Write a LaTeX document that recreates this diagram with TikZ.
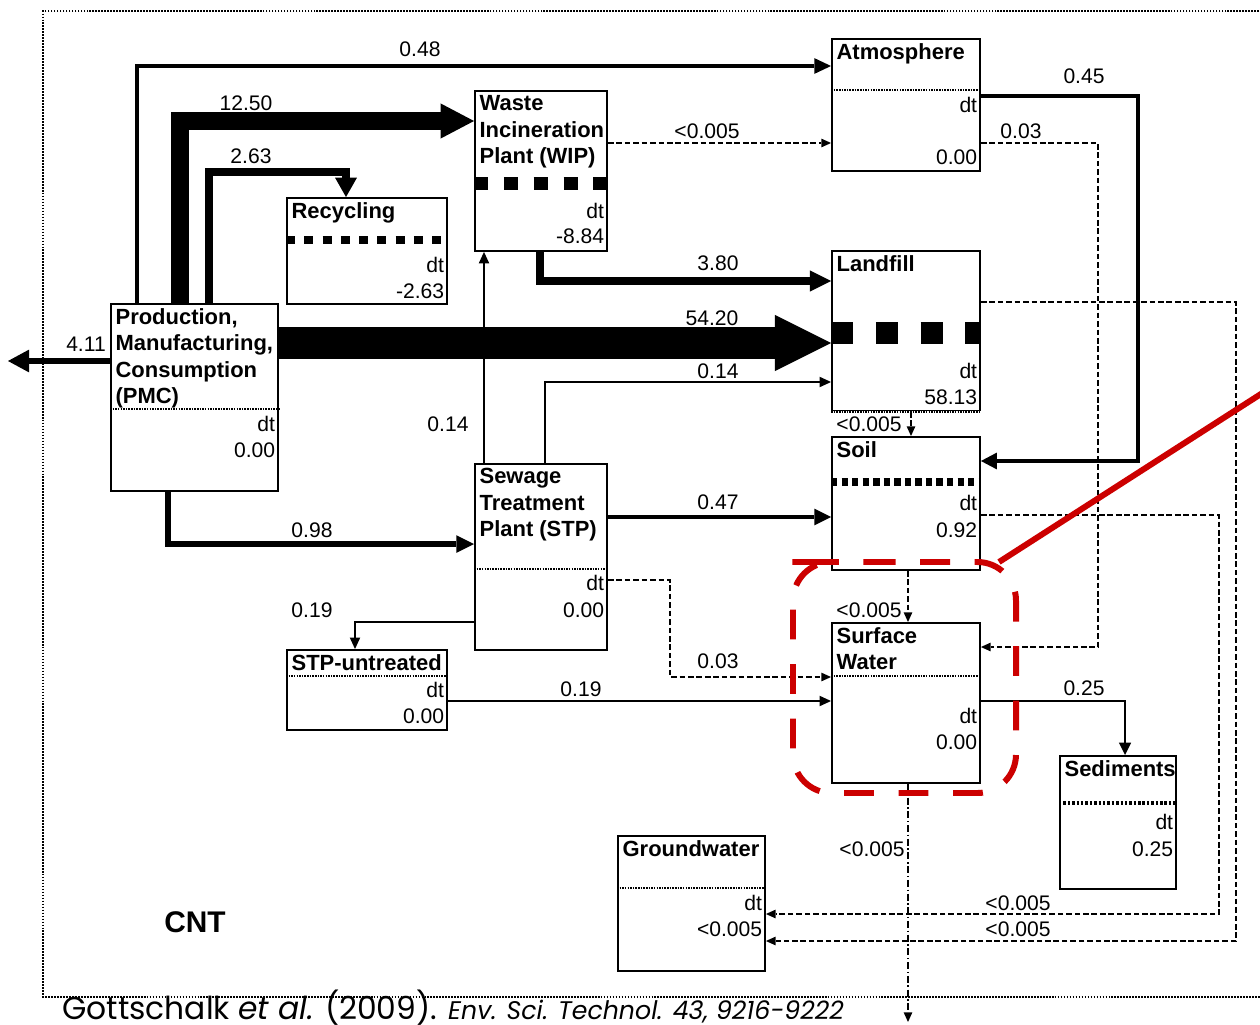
\documentclass[tikz,border=0pt]{standalone}
\usepackage{graphicx}
\usepackage{fontspec}
\setmainfont{Liberation Sans}
\newfontfamily\citefont{Poppins}
\usetikzlibrary{arrows.meta}
\definecolor{annored}{RGB}{204,0,0}

\tikzset{
  box/.style={draw, line width=1.1pt, anchor=north west, inner sep=0pt},
  size/.style 2 args={minimum width=#1*0.02cm, minimum height=#2*0.02cm},
  title/.style={anchor=north west, align=left, inner sep=3pt, font=\fontsize{12.5}{15}\selectfont\bfseries},
  val/.style={anchor=east, inner sep=2pt, font=\fontsize{12}{14}\selectfont},
  lbl/.style={inner sep=1pt, font=\fontsize{12}{14}\selectfont},
  tip/.style 2 args={-{Triangle[length=#1, width=#2, line width=0pt]}},
  thinflow/.style={line width=1.1pt, tip={6.5pt}{6pt}},
  dashflow/.style={line width=0.6pt, dash pattern=on 3.2pt off 1.6pt, tip={5.5pt}{5pt}},
  dotflow/.style={line width=0.6pt, dash pattern=on 4pt off 1.5pt on 0.8pt off 1.5pt, tip={5.5pt}{5pt}},
  thindiv/.style={line width=0.8pt, dash pattern=on 0.9pt off 0.6pt},
  frame/.style={line width=0.9pt, dash pattern=on 1pt off 0.7pt},
  reddash/.style={annored, line width=3.4pt, dash pattern=on 17pt off 14pt, rounded corners=22pt}
}

\begin{document}
\begin{tikzpicture}[x=0.02cm, y=-0.02cm]
\useasboundingbox (0,0) rectangle (1260,1024);
\fill[white] (0,0) rectangle (1260,1024);
\clip (0,0) rectangle (1260,1024);

% outer frame
\draw[frame] (1280,11) -| (43,997) -- (1280,997);

% Production, Manufacturing, Consumption
\node[box, size={167}{187}] (pmc) at (110,303) {};
\node[title] (pmct) at (pmc.north west) {Production,\\Manufacturing,\\Consumption\\(PMC)};
\draw[thindiv] (pmc.west |- 0,409) -- (pmc.east |- 0,409);
\node[val] (pmcdt) at (pmc.east |- 0,424) {dt};
\node[val] (pmcv) at (pmc.east |- 0,450) {0.00};

% Recycling
\node[box, size={160}{106}] (rec) at (286,197) {};
\node[title] (rect) at (rec.north west) {Recycling};
\draw[line width=4.5pt, dash pattern=on 5.1pt off 5.3pt] (rec.west |- 0,240) -- (rec.east |- 0,240);
\node[val] (recdt) at (rec.east |- 0,265) {dt};
\node[val] (recv) at (rec.east |- 0,291) {-2.63};

% Waste Incineration Plant
\node[box, size={132}{160}] (wip) at (474,90) {};
\node[title] (wipt) at (wip.north west) {Waste\\Incineration\\Plant (WIP)};
\draw[line width=7.4pt, dash pattern=on 8pt off 9pt] (wip.west |- 0,183) -- (wip.east |- 0,183);
\node[val] (wipdt) at (wip.east |- 0,211) {dt};
\node[val] (wipv) at (wip.east |- 0,236) {-8.84};

% Atmosphere
\node[box, size={148}{132}] (atm) at (831,38) {};
\node[title] (atmt) at (atm.north west) {Atmosphere};
\draw[thindiv] (atm.west |- 0,90) -- (atm.east |- 0,90);
\node[val] (atmdt) at (atm.east |- 0,105) {dt};
\node[val] (atmv) at (atm.east |- 0,157) {0.00};

% Landfill
\node[box, size={148}{160}] (lf) at (831,250) {};
\node[title] (lft) at (lf.north west) {Landfill};
\draw[line width=13pt, dash pattern=on 12.5pt off 13pt] (lf.west |- 0,333) -- (lf.east |- 0,333);
\draw[white, line width=1.3pt] (lf.south west) -- (lf.south east);
\draw[thindiv] (lf.south west) -- (lf.south east);
\node[val] (lfdt) at (lf.east |- 0,371) {dt};
\node[val] (lfv) at (lf.east |- 0,397) {58.13};

% Soil
\node[box, size={148}{133}] (soil) at (831,436) {};
\node[title] (soilt) at (soil.north west) {Soil};
\draw[line width=4pt, dash pattern=on 3.6pt off 2.4pt] (soil.west |- 0,482) -- (soil.east |- 0,482);
\node[val] (soildt) at (soil.east |- 0,503) {dt};
\node[val] (soilv) at (soil.east |- 0,530) {0.92};

% Surface Water
\node[box, size={148}{160}] (sw) at (831,622) {};
\node[title] (swt) at (sw.north west) {Surface\\Water};
\draw[thindiv] (sw.west |- 0,676) -- (sw.east |- 0,676);
\node[val] (swdt) at (sw.east |- 0,716) {dt};
\node[val] (swv) at (sw.east |- 0,742) {0.00};

% Sewage Treatment Plant
\node[box, size={132}{186}] (stp) at (474,463) {};
\node[title] (stpt) at (stp.north west) {Sewage\\Treatment\\Plant (STP)};
\draw[thindiv] (stp.west |- 0,569) -- (stp.east |- 0,569);
\node[val] (stpdt) at (stp.east |- 0,583) {dt};
\node[val] (stpv) at (stp.east |- 0,610) {0.00};

% STP-untreated
\node[box, size={160}{80}] (untr) at (286,649) {};
\node[title] (untrt) at (untr.north west) {STP-untreated};
\draw[thindiv] (untr.west |- 0,676) -- (untr.east |- 0,676);
\node[val] (untrdt) at (untr.east |- 0,690) {dt};
\node[val] (untrv) at (untr.east |- 0,716) {0.00};

% Sediments
\node[box, size={116}{133}] (sed) at (1059,755) {};
\node[title] (sedt) at (sed.north west) {Sediments};
\draw[line width=2.5pt, dash pattern=on 1.4pt off 1.1pt] (sed.west |- 0,803) -- (sed.east |- 0,803);
\node[val] (seddt) at (sed.east |- 0,822) {dt};
\node[val] (sedv) at (sed.east |- 0,849) {0.25};

% Groundwater
\node[box, size={147}{135}] (gw) at (617,835) {};
\node[title] (gwt) at (gw.north west) {Groundwater};
\draw[thindiv] (gw.west |- 0,888) -- (gw.east |- 0,888);
\node[val] (gwdt) at (gw.east |- 0,903) {dt};
\node[val] (gwv) at (gw.east |- 0,929) {<0.005};

% flows from PMC
\draw[line width=2.8pt, tip={9.5pt}{9pt}] (pmc.north -| 137,0) |- (atm.west |- 0,66);
\draw[line width=10pt, tip={19pt}{20pt}] (pmc.north -| 180,0) |- (wip.west |- 0,121);
\draw[line width=4pt, tip={11pt}{12.5pt}] (pmc.north -| 209,0) |- (346,172) -- (rec.north -| 346,0);
\coordinate (exit) at (8,361);
\draw[line width=3.4pt, tip={12pt}{13pt}] (pmc.west |- 0,361) -- (exit);
\draw[line width=3.4pt, tip={10pt}{10pt}] (pmc.south -| 168,0) |- (stp.west |- 0,544);

% flows from STP
\draw[thinflow] (stp.north -| 484,0) -- (wip.south -| 484,0);
\draw[thinflow] (stp.north -| 545,0) |- (lf.west |- 0,382);
\draw[line width=2.3pt, tip={9.5pt}{9.5pt}] (stp.east |- 0,517) -- (soil.west |- 0,517);
\draw[thinflow] (stp.west |- 0,622) -| (untr.north -| 355,0);
\draw[dashflow] (stp.east |- 0,580) -| (670,677) -- (sw.west |- 0,677);
\draw[thinflow] (untr.east |- 0,701) -- (sw.west |- 0,701);

\draw[line width=18pt, tip={32pt}{32pt}] (pmc.east |- 0,343) -- (lf.west |- 0,343);

% flows from WIP
\draw[dashflow] (wip.east |- 0,143) -- (atm.west |- 0,143);
\draw[line width=4pt, tip={12pt}{12pt}] (wip.south -| 540,0) |- (lf.west |- 0,281);

% flows from Atmosphere
\draw[line width=2.8pt, tip={9pt}{9.5pt}] (atm.east |- 0,96) -| (1138,461) -- (soil.east |- 0,461);
\draw[dashflow] (atm.east |- 0,143) -| (1098,647) -- (sw.east |- 0,647);

% flows from Landfill
\draw[dashflow] (lf.south -| 911,0) -- (soil.north -| 911,0);
\draw[dashflow] (lf.east |- 0,302) -| (1236,941) -- (gw.east |- 0,941);

% flows from Soil
\draw[dashflow] (soil.south -| 908,0) -- (sw.north -| 908,0);
\draw[dashflow] (soil.east |- 0,515) -| (1219,914) -- (gw.east |- 0,914);

% flows from Surface Water
\draw[line width=1.6pt, tip={7pt}{7pt}] (sw.east |- 0,701) -| (sed.north -| 1125,0);
\coordinate (sink) at (908,1022);
\draw[dotflow] (sw.south -| 908,0) -- (sink);

% flow labels
\node[lbl] (l1) at (420,49) {0.48};
\node[lbl] (l2) at (246,103) {12.50};
\node[lbl] (l3) at (251,156) {2.63};
\node[lbl] (l4) at (86,344) {4.11};
\node[lbl] (l5) at (712,318) {54.20};
\node[lbl] (l6) at (718,371) {0.14};
\node[lbl] (l7) at (448,424) {0.14};
\node[lbl] (l8) at (312,530) {0.98};
\node[lbl] (l9) at (718,502) {0.47};
\node[lbl] (l10) at (312,610) {0.19};
\node[lbl] (l11) at (718,661) {0.03};
\node[lbl] (l12) at (581,689) {0.19};
\node[lbl] (l13) at (707,131) {<0.005};
\node[lbl] (l14) at (718,263) {3.80};
\node[lbl] (l15) at (1084,76) {0.45};
\node[lbl] (l16) at (1021,131) {0.03};
\node[lbl] (l17) at (869,424) {<0.005};
\node[lbl] (l18) at (869,610) {<0.005};
\node[lbl] (l19) at (872,849) {<0.005};
\node[lbl] (l20) at (1018,903) {<0.005};
\node[lbl] (l21) at (1018,929) {<0.005};
\node[lbl] (l22) at (1084,688) {0.25};

% red highlight
\draw[reddash] (827,562) -| (1016,793) -| (793,562) -- cycle;
\coordinate (callA) at (999,562);
\coordinate (callB) at (1264,392);
\draw[annored, line width=3.4pt] (callA) -- (callB);

% substance and source
\node[font=\fontsize{17}{20}\selectfont\bfseries] (cnt) at (195,922) {CNT};
\node[anchor=base west, inner sep=0pt] (cite) at (62,1019)
  {\citefont\scalebox{0.99}[1]{\fontsize{18}{20}\selectfont Gottschalk \textit{et al.} (2009). \fontsize{14.5}{16}\selectfont\textit{Env. Sci. Technol. 43, 9216-9222}}};
\end{tikzpicture}
\end{document}
